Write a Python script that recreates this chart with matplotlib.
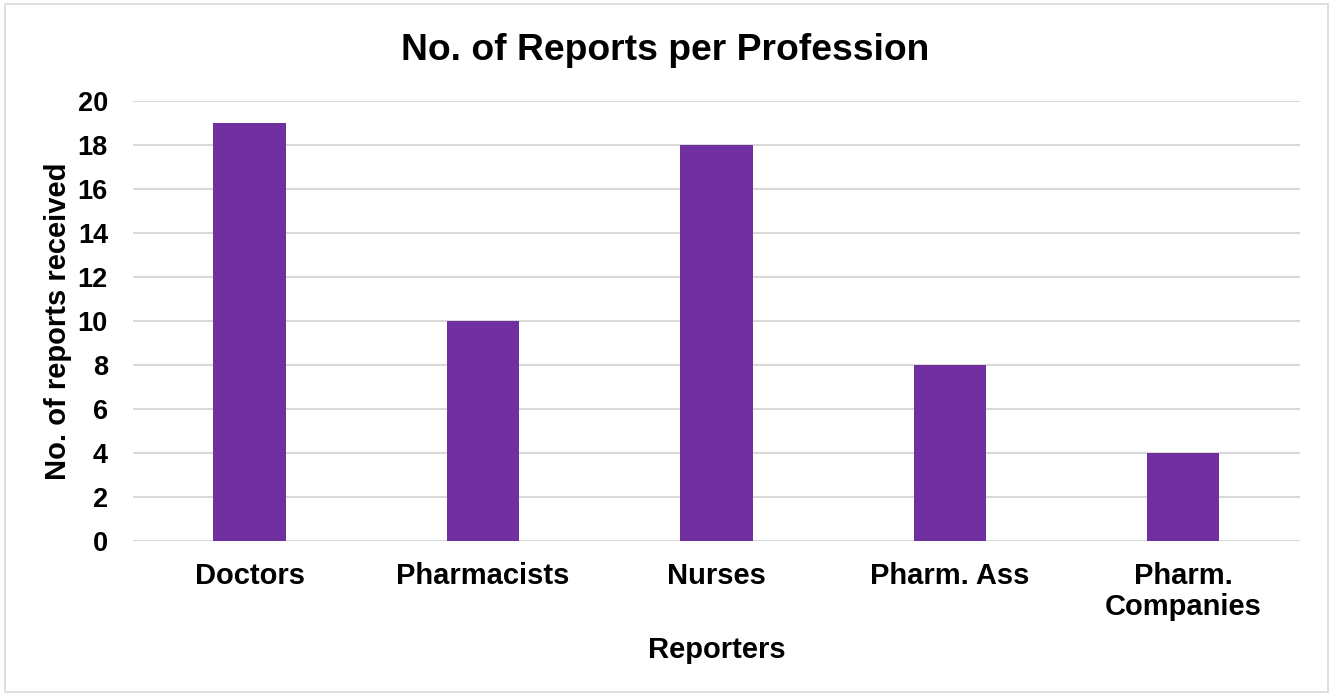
import matplotlib.pyplot as plt
from matplotlib.patches import Rectangle

professions = ['Doctors', 'Pharmacists', 'Nurses', 'Pharm. Ass', 'Pharm.\nCompanies']
reports = [19, 10, 18, 8, 4]

plt.rcParams['font.family'] = ['Liberation Sans', 'DejaVu Sans']
plt.rcParams['font.weight'] = 'bold'

fig = plt.figure(figsize=(13.31, 6.96), dpi=100)
ax = fig.add_axes([0.0999, 0.2227, 0.8768, 0.6322])

# chart border
fig.patches.append(Rectangle((5 / 1331, 4 / 696), 1 - 8 / 1331, 1 - 8 / 696,
                             transform=fig.transFigure, fill=False,
                             edgecolor='#D9D9D9', linewidth=1.2))

x = range(len(professions))
ax.bar(x, reports, width=0.31, color='#7030A0', zorder=3)

ax.set_xlim(-0.5, len(professions) - 0.5)
ax.set_ylim(0, 20)
ax.set_yticks(range(0, 21, 2))
ax.set_xticks(list(x))
ax.set_xticklabels(professions, fontsize=21, fontweight='bold', linespacing=1.15)
ax.tick_params(axis='y', labelsize=19.5, length=0, pad=18)
ax.tick_params(axis='x', length=0, pad=15)

ax.grid(axis='y', color='#D9D9D9', linewidth=1.5, zorder=0)
for s in ax.spines.values():
    s.set_visible(False)

fig.text(0.5, 1 - 50 / 696, 'No. of Reports per Profession', fontsize=26.8,
         fontweight='bold', ha='center', va='center')
ax.set_xlabel('Reporters', fontsize=21, fontweight='bold', labelpad=11)
ax.set_ylabel('No. of reports received', fontsize=21, fontweight='bold', labelpad=4)

fig.savefig('out.png', dpi=100)
